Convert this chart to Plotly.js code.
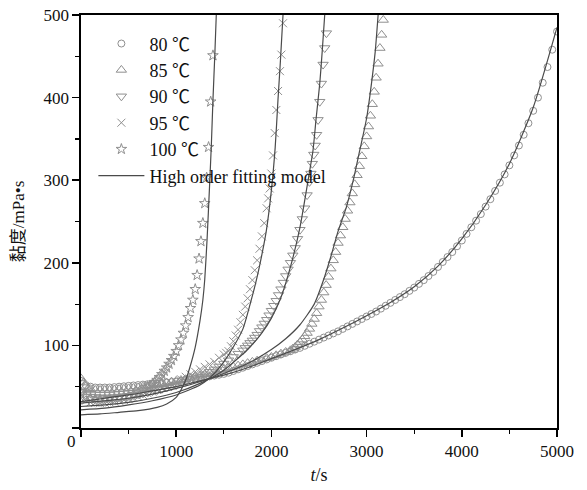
<!DOCTYPE html>
<html><head><meta charset="utf-8">
<script src="https://cdn.plot.ly/plotly-3.0.1.min.js"></script>
<style>html,body{margin:0;padding:0;background:#fff}#chart{width:587px;height:490px}</style>
</head><body><div id="chart"></div>
<script>
// ---- Data ----
// 80 °C measured (circles)
const t80 = [0,50,100,150,200,250,300,350,400,450,500,550,600,650,700,750,800,850,900,950,1000,1050,1100,1150,1200,1250,1300,1350,1400,1450,1500,1550,1600,1650,1700,1750,1800,1850,1900,1950,2000,2050,2100,2150,2200,2250,2300,2350,2400,2450,2500,2550,2600,2650,2700,2750,2800,2850,2900,2950,3000,3050,3100,3150,3200,3250,3300,3350,3400,3450,3500,3550,3600,3650,3700,3750,3800,3850,3900,3950,4000,4050,4100,4150,4200,4250,4300,4350,4400,4450,4500,4550,4600,4650,4700,4750,4800,4850,4900,4950,5000];
const v80 = [57,52,50,49,49,49,49,49.5,50,50.5,51,51.5,52,52.5,53,53.5,54,54.5,55,55.5,56,57,58,58.5,59.5,60.5,61.5,62.5,63.5,64.5,65.5,67,69,71,73,75,77,79,81,83,85,87,89,91,93,95,97,99.5,102,104.5,107,109.5,112,114.5,117,120,123,126,129,132,135,138,141,144.5,148,151.5,155,158.5,162,166,170,174.5,179,184,189,195,201,207,213,220,227,235,243,251,259,268,277,287,297,307,318,330,342,355,369,384,400,418,437,458,480];
// 85 °C measured (up triangles)
const t85 = [0,25,50,75,100,150,200,250,300,350,400,450,500,550,600,650,700,750,800,850,900,950,1000,1050,1100,1150,1200,1250,1300,1350,1400,1450,1500,1550,1600,1650,1700,1750,1800,1850,1900,1950,2000,2050,2100,2150,2200,2225,2250,2275,2300,2325,2350,2375,2400,2425,2450,2475,2500,2525,2550,2575,2600,2625,2650,2675,2700,2725,2750,2775,2800,2825,2850,2875,2900,2925,2950,2975,3000,3020,3040,3060,3080,3100,3120,3140,3158,3175];
const v85 = [60,55,50,48,47,46,46,46,46,46.5,47,47.5,48,48.5,49,50,51,52,53,54,55,56,57,58,59,60.5,62,63.5,65,66.5,68,69.5,71,72.5,74,75.5,77,78.5,80,81.5,83,84.5,86,88,90,92,94,96,98,101,104,107,111,115,120,126,132,139,147,155,164,173,183,193,203,213,224,233,243,253,263,273,284,295,306,317,329,341,353,365,378,392,407,424,441,460,476,494];
// 90 °C measured (down triangles)
const t90 = [0,50,100,150,200,250,300,350,400,450,500,550,600,650,700,750,800,850,900,950,1000,1050,1100,1150,1200,1250,1300,1350,1400,1450,1500,1550,1600,1650,1700,1725,1750,1775,1800,1825,1850,1875,1900,1925,1950,1975,2000,2025,2050,2075,2100,2125,2150,2175,2200,2225,2250,2275,2300,2325,2350,2375,2400,2415,2430,2445,2460,2475,2490,2508,2525,2543,2560,2578];
const v90 = [44,40,38,37.5,37,37,37,37.5,38,38.5,39,40,41,42,43,44.5,46,47.5,49,50.5,52,54,56,58,60,62.5,65,68,71,74.5,78,82,86,90,94,97,100,103,106,109.5,113,117.5,122,126.5,131,136.5,142,148,154,161,168,176,184,192,200,209,218,229,240,253,266,282,298,308,320,331,342,355,373,395,417,440,460,478];
// 95 °C measured (crosses)
const t95 = [0,50,100,150,200,250,300,350,400,450,500,550,600,650,700,750,800,850,900,950,1000,1050,1100,1150,1200,1250,1300,1350,1400,1450,1500,1525,1550,1575,1600,1625,1650,1675,1700,1725,1750,1775,1800,1825,1850,1875,1900,1925,1950,1966,1982,2000,2017,2035,2052,2070,2090,2105,2122];
const v95 = [36,33,31,30.5,30,30.5,31,32,33,34,35,36.5,38,40,42,44,46,48.5,51,53.5,56,59,62,65,68,71,74,77,80,85,89,91,93,99,105,112,119,128,137,147,157,168,179,191,203,217,232,248,266,278,290,308,330,357,385,408,432,452,490];
// 100 °C measured (stars)
const t100 = [0,50,100,150,200,250,300,350,400,450,500,550,600,650,700,725,750,775,800,825,850,875,900,925,950,975,1000,1025,1050,1075,1100,1125,1150,1175,1200,1220,1240,1260,1280,1300,1320,1340,1362,1386];
const v100 = [42,38,36,35.5,35,35.5,36,36.5,37,38,39,41,43,46,49,51,53,55.5,58,61.5,65,69,73,77.5,82,87,93,100,107,115,124,134,145,155,168,185,205,226,248,272,303,340,395,451];

// High order fitting model (lines)
const tf80 = [0,250,500,750,1000,1250,1500,1750,2000,2250,2500,2750,3000,3250,3500,3750,4000,4250,4500,4750,5000];
const vf80 = [32,36,40,45,50,57,64,73,84,95,107,121,136,152,171,196,229,270,320,388,485];
const tf85 = [0,250,500,750,1000,1250,1500,1750,2000,2150,2300,2450,2550,2631,2700,2789,2860,2928,3000,3051,3090,3121];
const vf85 = [30,33,36,41,48,56,66,78,95,108,125,150,180,210,238,268,300,336,375,417,455,500];
const tf90 = [0,250,500,750,1000,1250,1500,1750,1900,2000,2100,2200,2300,2400,2437,2470,2508,2535,2560];
const vf90 = [26,28,31,36,43,54,70,95,115,133,158,195,243,310,336,375,417,458,500];
const tf95 = [0,250,500,750,1000,1250,1400,1500,1600,1701,1800,1842,1900,1947,2000,2040,2069,2095,2122];
const vf95 = [22,24,28,33,40,52,66,80,98,120,160,179,210,239,288,340,397,445,500];
const tf100 = [0,200,400,600,800,900,1000,1050,1100,1150,1200,1250,1280,1300,1325,1350,1370,1386,1405,1421];
const vf100 = [16,17,19,21,25,29,37,46,58,76,98,130,155,180,230,292,345,397,450,500];

const names = ['80 ℃','85 ℃','90 ℃','95 ℃','100 ℃'];
const fitName = 'High order fitting model';
const xTicks = [0,1000,2000,3000,4000,5000];
const xTickText = ['','1000','2000','3000','4000','5000'];
const yTicks = [0,100,200,300,400,500];
const yTickText = ['','100','200','300','400','500'];

// ---- Styles ----
const MK = '#8f8f8f';
const LN = '#4a4a4a';
const serif = 'Liberation Serif, Times New Roman, Noto Sans CJK SC, serif';

function meas(x, y, name, symbol, size) {
  return {x, y, name, type:'scatter', mode:'markers',
    marker:{symbol, size, color:MK, line:{color:MK, width:1}}};
}
function fit(x, y, show) {
  return {x, y, name:fitName, type:'scatter', mode:'lines', showlegend:show,
    line:{color:LN, width:1.2, shape:'spline', smoothing:0.6}};
}

const data = [
  meas(t80, v80, names[0], 'circle-open', 7),
  meas(t85, v85, names[1], 'triangle-up-open', 9),
  meas(t90, v90, names[2], 'triangle-down-open', 9),
  meas(t95, v95, names[3], 'x-thin-open', 8),
  meas(t100, v100, names[4], 'star-open', 8),
  fit(tf80, vf80, true),
  fit(tf85, vf85, false),
  fit(tf90, vf90, false),
  fit(tf95, vf95, false),
  fit(tf100, vf100, false)
];

const axisCommon = {
  showgrid:false, zeroline:false, showline:true, linecolor:'#000', linewidth:1.6,
  mirror:true, ticks:'outside', ticklen:7, tickwidth:1.5, tickcolor:'#000',
  tickfont:{family:serif, size:17, color:'#111'}
};

const layout = {
  width:587, height:490,
  margin:{l:81, r:30, t:15, b:62},
  paper_bgcolor:'#fff', plot_bgcolor:'#fff',
  showlegend:true,
  legend:{x:0.026, y:0.975, xanchor:'left', yanchor:'top', bgcolor:'rgba(0,0,0,0)',
    font:{family:serif, size:18, color:'#111'}, itemwidth:46, tracegroupgap:0},
  xaxis:Object.assign({}, axisCommon, {range:[0,5000], tickmode:'array', tickvals:xTicks, ticktext:xTickText,
    minor:{dtick:500, ticks:'outside', ticklen:4, tickwidth:1.2, tickcolor:'#000'},
    title:{text:'<i>t</i>/s', font:{family:serif, size:18, color:'#111'}, standoff:8}}),
  yaxis:Object.assign({}, axisCommon, {range:[0,500], tickmode:'array', tickvals:yTicks, ticktext:yTickText,
    minor:{dtick:50, ticks:'outside', ticklen:4, tickwidth:1.2, tickcolor:'#000'},
    title:{text:'黏度/mPa•s', font:{family:serif, size:17, color:'#111'}, standoff:14}}),
  annotations:[{x:0, y:0, xref:'x', yref:'y', text:'0', showarrow:false,
    xshift:-10, yshift:-13, font:{family:serif, size:17, color:'#111'}}]
};

Plotly.newPlot('chart', data, layout, {staticPlot:true, displayModeBar:false});
</script>
</body></html>
